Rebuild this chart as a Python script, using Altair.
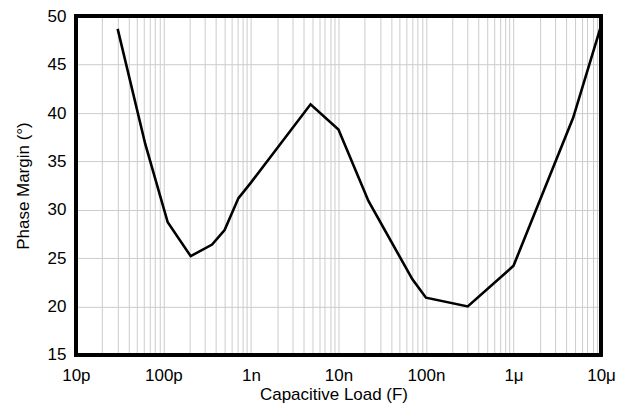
import altair as alt
import pandas as pd

# Data
cap_load = [30e-12, 62e-12, 112e-12, 205e-12, 360e-12, 500e-12, 720e-12, 1e-9,
            4.8e-9, 10e-9, 22e-9, 70e-9, 100e-9, 300e-9, 1e-6, 4.8e-6, 10e-6]
phase_margin = [48.7, 36.8, 28.7, 25.2, 26.4, 27.9, 31.2, 32.8,
                40.9, 38.3, 30.9, 22.8, 20.9, 20.0, 24.2, 39.5, 49.0]

decade_exponents = [-11, -10, -9, -8, -7, -6, -5]
decade_labels = ["10p", "100p", "1n", "10n", "100n", "1\u03bc", "10\u03bc"]
y_ticks = [15, 20, 25, 30, 35, 40, 45, 50]

x_tick_values = [m * 10.0 ** e for e in decade_exponents[:-1] for m in range(1, 10)] + [10.0 ** decade_exponents[-1]]

df = pd.DataFrame({"cap": cap_load, "pm": phase_margin})

lab_arr = "[" + ",".join("'" + s + "'" for s in decade_labels) + "]"
label_expr = (
    "abs(log(datum.value)/LN10 - round(log(datum.value)/LN10)) > 0.01 ? '' : "
    + lab_arr + "[round(log(datum.value)/LN10) - (" + str(decade_exponents[0]) + ")]"
)

font = "Liberation Sans"
W, H = 526, 339

line = alt.Chart(df).mark_line(color="black", strokeWidth=2.6).encode(
    x=alt.X(
        "cap:Q",
        scale=alt.Scale(type="log", domain=[1e-11, 1e-5], nice=False),
        axis=alt.Axis(
            values=x_tick_values,
            labelExpr=label_expr,
            title="Capacitive Load (F)",
            grid=True,
            ticks=False,
            domain=False,
            labelOverlap=False,
            labelFlush=False,
            labelPadding=13,
            titlePadding=3,
            titleX=258,
        ),
    ),
    y=alt.Y(
        "pm:Q",
        scale=alt.Scale(domain=[15, 50], nice=False, zero=False),
        axis=alt.Axis(
            values=y_ticks,
            title="Phase Margin (\u00b0)",
            grid=True,
            ticks=False,
            domain=False,
            labelPadding=10,
            titlePadding=15,
        ),
    ),
)

border = alt.Chart(df).mark_rect(fill="transparent", stroke="black", strokeWidth=3).encode(
    x=alt.value(0), x2=alt.value(W), y=alt.value(0), y2=alt.value(H)
)

chart = alt.layer(line, border).properties(
    width=W,
    height=H,
    autosize=alt.AutoSizeParams(type="none"),
    padding={"left": 68, "top": 8, "right": 20, "bottom": 50},
).configure_view(
    strokeWidth=0,
).configure_axis(
    gridColor="#cccccc",
    gridWidth=1,
    labelFont=font,
    titleFont=font,
    labelFontSize=17,
    titleFontSize=17,
    titleFontWeight="normal",
    labelColor="black",
    titleColor="black",
)

chart.save("out.html", embed_options={"renderer": "svg", "actions": False})
